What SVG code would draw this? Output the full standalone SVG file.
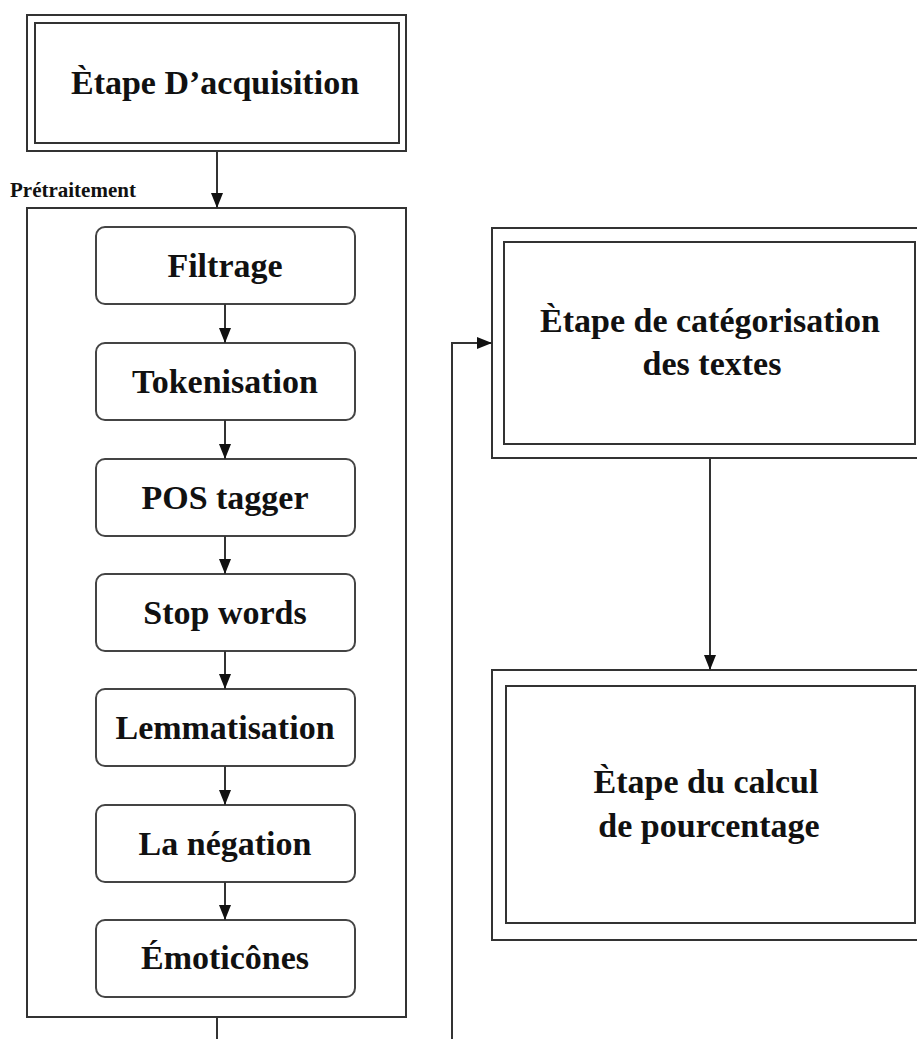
<svg xmlns="http://www.w3.org/2000/svg" width="917" height="1039" viewBox="0 0 917 1039">
<style>
.box{fill:#fff;stroke:#333;stroke-width:2}
.rbox{fill:#fff;stroke:#444;stroke-width:2}
.t{font-family:"Liberation Serif","Times New Roman",serif;font-weight:bold;font-size:34px;fill:#111;text-anchor:middle}
.lbl{font-family:"Liberation Serif","Times New Roman",serif;font-weight:bold;font-size:21px;fill:#111}
.c{fill:none;stroke:#333;stroke-width:2}
</style>
<defs>
<marker id="ah" markerUnits="userSpaceOnUse" markerWidth="16" markerHeight="12" refX="15" refY="6" orient="auto">
<path d="M0,0 L15,6 L0,12 Z" fill="#111"/>
</marker>
</defs>
<rect width="917" height="1039" fill="#fff"/>
<g id="acquisition">
<rect class="box" x="27" y="15" width="379" height="136"/>
<rect class="box" x="35" y="23" width="364" height="120"/>
<text class="t" x="215" y="94">Ètape D’acquisition</text>
</g>
<g id="pretraitement">
<text class="lbl" x="10" y="197">Prétraitement</text>
<rect class="box" x="27" y="208" width="379" height="809"/>
</g>
<g id="filtrage"><rect class="rbox" x="96" y="227" width="259" height="77" rx="9"/><text class="t" x="225" y="277">Filtrage</text></g>
<g id="tokenisation"><rect class="rbox" x="96" y="343" width="259" height="77" rx="9"/><text class="t" x="225" y="393">Tokenisation</text></g>
<g id="pos"><rect class="rbox" x="96" y="459" width="259" height="77" rx="9"/><text class="t" x="225" y="509">POS tagger</text></g>
<g id="stopwords"><rect class="rbox" x="96" y="574" width="259" height="77" rx="9"/><text class="t" x="225" y="624">Stop words</text></g>
<g id="lemmatisation"><rect class="rbox" x="96" y="689" width="259" height="77" rx="9"/><text class="t" x="225" y="739">Lemmatisation</text></g>
<g id="negation"><rect class="rbox" x="96" y="805" width="259" height="77" rx="9"/><text class="t" x="225" y="855">La négation</text></g>
<g id="emoticones"><rect class="rbox" x="96" y="920" width="259" height="77" rx="9"/><text class="t" x="225" y="969">Émoticônes</text></g>
<g id="categorisation">
<rect class="box" x="492" y="228" width="440" height="230"/>
<rect class="box" x="504" y="242" width="411" height="202"/>
<text class="t" x="710" y="332">Ètape de catégorisation</text>
<text class="t" x="712" y="375">des textes</text>
</g>
<g id="calcul">
<rect class="box" x="492" y="670" width="440" height="270"/>
<rect class="box" x="506" y="686" width="409" height="237"/>
<text class="t" x="706" y="793">Ètape du calcul</text>
<text class="t" x="709" y="837">de pourcentage</text>
</g>
<g id="connectors">
<line class="c" x1="217" y1="151" x2="217" y2="208" marker-end="url(#ah)"/>
<line class="c" x1="225" y1="304" x2="225" y2="343" marker-end="url(#ah)"/>
<line class="c" x1="225" y1="420" x2="225" y2="459" marker-end="url(#ah)"/>
<line class="c" x1="225" y1="536" x2="225" y2="574" marker-end="url(#ah)"/>
<line class="c" x1="225" y1="651" x2="225" y2="689" marker-end="url(#ah)"/>
<line class="c" x1="225" y1="766" x2="225" y2="805" marker-end="url(#ah)"/>
<line class="c" x1="225" y1="882" x2="225" y2="920" marker-end="url(#ah)"/>
<line class="c" x1="217" y1="1017" x2="217" y2="1039"/>
<path class="c" d="M452,1039 V343 H492" marker-end="url(#ah)"/>
<line class="c" x1="710" y1="458" x2="710" y2="670" marker-end="url(#ah)"/>
</g>
</svg>
